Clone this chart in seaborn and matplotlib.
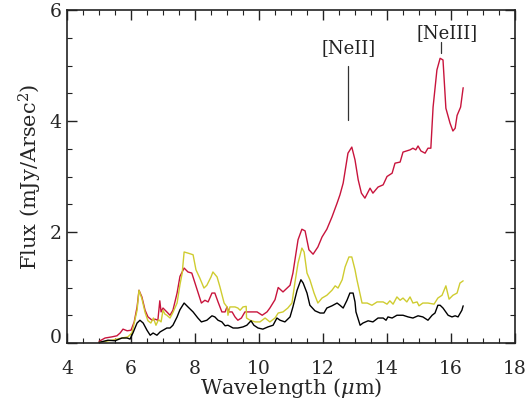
import numpy as np
import matplotlib
matplotlib.use("Agg")
import matplotlib.pyplot as plt
import seaborn as sns
from matplotlib.ticker import MultipleLocator

# red spectrum
red_x = [5.00, 5.19, 5.40, 5.56, 5.66, 5.75, 5.88, 6.00, 6.10, 6.19, 6.25, 6.34, 6.44, 6.53,
         6.66, 6.75, 6.84, 6.90, 6.94, 7.00, 7.12, 7.22, 7.31, 7.44, 7.53, 7.66, 7.78, 7.90,
         8.00, 8.10, 8.20, 8.31, 8.41, 8.53, 8.62, 8.72, 8.84, 8.94, 9.00, 9.06, 9.16, 9.25,
         9.34, 9.45, 9.56, 9.72, 9.94, 10.10, 10.25, 10.34, 10.50, 10.60, 10.75, 10.97, 11.06,
         11.22, 11.34, 11.44, 11.56, 11.69, 11.84, 11.97, 12.12, 12.28, 12.44, 12.53, 12.63,
         12.78, 12.90, 13.00, 13.10, 13.20, 13.31, 13.47, 13.56, 13.72, 13.88, 14.00, 14.16,
         14.25, 14.41, 14.50, 14.72, 14.81, 14.90, 14.97, 15.06, 15.19, 15.28, 15.37, 15.44,
         15.56, 15.66, 15.75, 15.84, 15.97, 16.06, 16.13, 16.19, 16.30, 16.38]
red_y = [0.03, 0.09, 0.11, 0.13, 0.18, 0.25, 0.22, 0.23, 0.38, 0.65, 0.95, 0.83, 0.59, 0.47,
         0.41, 0.43, 0.41, 0.76, 0.56, 0.63, 0.56, 0.50, 0.59, 0.90, 1.20, 1.35, 1.28, 1.26,
         1.08, 0.90, 0.72, 0.77, 0.74, 0.90, 0.90, 0.74, 0.56, 0.56, 0.65, 0.56, 0.56, 0.47,
         0.41, 0.45, 0.56, 0.56, 0.56, 0.50, 0.56, 0.63, 0.78, 1.00, 0.92, 1.04, 1.26,
         1.86, 2.05, 2.02, 1.68, 1.60, 1.73, 1.91, 2.05, 2.27, 2.52, 2.67, 2.88,
         3.42, 3.53, 3.30, 2.94, 2.70, 2.61, 2.79, 2.70, 2.81, 2.85, 3.00, 3.06,
         3.24, 3.26, 3.44, 3.48, 3.51, 3.48, 3.55, 3.46, 3.42, 3.51, 3.51, 4.25,
         4.92, 5.13, 5.10, 4.23, 3.96, 3.82, 3.87, 4.10, 4.25, 4.60]

# yellow spectrum
yel_x = [5.00, 5.10, 5.40, 5.72, 5.90, 6.03, 6.19, 6.25, 6.34, 6.44, 6.53, 6.62, 6.70, 6.78,
         6.86, 6.94, 7.00, 7.06, 7.12, 7.22, 7.31, 7.44, 7.53, 7.60, 7.66, 7.78, 7.94, 8.03,
         8.15, 8.28, 8.37, 8.50, 8.56, 8.69, 8.78, 8.91, 9.00, 9.03, 9.09, 9.25, 9.34, 9.41,
         9.50, 9.60, 9.61, 9.72, 9.88, 10.03, 10.19, 10.34, 10.50, 10.60, 10.75, 10.90, 11.03,
         11.12, 11.22, 11.34, 11.41, 11.50, 11.59, 11.72, 11.84, 11.97, 12.12, 12.28, 12.38,
         12.47, 12.60, 12.69, 12.81, 12.90, 13.00, 13.06, 13.22, 13.38, 13.53, 13.69, 13.88,
         14.00, 14.09, 14.19, 14.31, 14.41, 14.50, 14.62, 14.72, 14.81, 14.94, 15.00, 15.12,
         15.28, 15.47, 15.59, 15.72, 15.84, 15.94, 16.06, 16.19, 16.28, 16.38]
yel_y = [0.01, 0.02, 0.05, 0.09, 0.11, 0.18, 0.59, 0.95, 0.80, 0.55, 0.40, 0.36, 0.45, 0.32,
         0.42, 0.38, 0.59, 0.52, 0.50, 0.45, 0.55, 0.72, 1.05, 1.26, 1.64, 1.62, 1.59, 1.32,
         1.17, 0.99, 1.04, 1.19, 1.28, 1.19, 1.01, 0.72, 0.65, 0.50, 0.65, 0.65, 0.63, 0.59,
         0.65, 0.66, 0.45, 0.41, 0.38, 0.38, 0.45, 0.38, 0.45, 0.54, 0.56, 0.63, 0.72,
         1.08, 1.44, 1.71, 1.64, 1.26, 1.14, 0.90, 0.72, 0.81, 0.86, 0.95, 1.03,
         0.99, 1.14, 1.37, 1.55, 1.55, 1.32, 1.14, 0.72, 0.72, 0.68, 0.74, 0.74,
         0.70, 0.76, 0.70, 0.83, 0.77, 0.81, 0.74, 0.83, 0.72, 0.74, 0.67, 0.72,
         0.72, 0.70, 0.81, 0.86, 1.03, 0.79, 0.86, 0.90, 1.08, 1.12]

# black spectrum
blk_x = [5.00, 5.28, 5.50, 5.72, 5.88, 5.97, 6.06, 6.19, 6.28, 6.38, 6.50, 6.60, 6.69, 6.81,
         6.91, 7.00, 7.12, 7.22, 7.31, 7.44, 7.53, 7.66, 7.78, 7.94, 8.09, 8.20, 8.37, 8.53,
         8.62, 8.72, 8.84, 8.94, 9.03, 9.19, 9.34, 9.50, 9.62, 9.75, 9.84, 9.97, 10.12, 10.28,
         10.44, 10.56, 10.66, 10.81, 10.97, 11.06, 11.19, 11.31, 11.38, 11.50, 11.59, 11.75,
         11.91, 12.03, 12.12, 12.28, 12.44, 12.53, 12.63, 12.75, 12.84, 12.94, 13.00, 13.03,
         13.16, 13.25, 13.41, 13.56, 13.72, 13.88, 13.97, 14.03, 14.16, 14.31, 14.50, 14.66,
         14.81, 14.97, 15.12, 15.28, 15.41, 15.50, 15.59, 15.66, 15.75, 15.91, 16.03, 16.13,
         16.22, 16.34, 16.38]
blk_y = [0.01, 0.05, 0.04, 0.09, 0.09, 0.07, 0.18, 0.36, 0.41, 0.36, 0.23, 0.14, 0.18, 0.14,
         0.20, 0.23, 0.27, 0.27, 0.32, 0.47, 0.60, 0.72, 0.65, 0.56, 0.45, 0.38, 0.41, 0.49,
         0.47, 0.41, 0.38, 0.31, 0.32, 0.27, 0.27, 0.29, 0.32, 0.40, 0.32, 0.27, 0.25, 0.29,
         0.32, 0.45, 0.41, 0.38, 0.47, 0.65, 0.95, 1.14, 1.08, 0.90, 0.68, 0.58,
         0.54, 0.54, 0.63, 0.67, 0.72, 0.68, 0.63, 0.77, 0.90, 0.90, 0.74, 0.56,
         0.32, 0.36, 0.40, 0.38, 0.45, 0.45, 0.41, 0.47, 0.45, 0.50, 0.50, 0.47,
         0.45, 0.49, 0.47, 0.41, 0.50, 0.54, 0.68, 0.68, 0.63, 0.50, 0.47, 0.49,
         0.47, 0.59, 0.67]

# line labels: text, x, y of text, x of marker, y range of marker
line_names = ["[NeII]", "[NeIII]"]
line_text_x = [12.81, 15.88]
line_text_y = [5.32, 5.59]
line_mark_x = [12.78, 15.69]
line_mark_y0 = [4.02, 5.22]
line_mark_y1 = [4.99, 5.42]

x_ticks = [4, 6, 8, 10, 12, 14, 16, 18]
y_ticks = [0, 2, 4, 6]

sns.set_style("ticks")
plt.rcParams['font.family'] = ['DejaVu Serif']
plt.rcParams['mathtext.fontset'] = 'dejavuserif'

fig, ax = plt.subplots(figsize=(5.32, 4.04), dpi=100)
fig.subplots_adjust(left=67/532, right=515/532, top=1-10/404, bottom=1-343/404)

sns.lineplot(x=red_x, y=red_y, ax=ax, color='#c8143c', lw=1.0, sort=False, estimator=None)
sns.lineplot(x=yel_x, y=yel_y, ax=ax, color='#cfcc30', lw=1.0, sort=False, estimator=None)
sns.lineplot(x=blk_x, y=blk_y, ax=ax, color='black', lw=1.0, sort=False, estimator=None)

for name, tx, ty, mx, y0, y1 in zip(line_names, line_text_x, line_text_y,
                                    line_mark_x, line_mark_y0, line_mark_y1):
    ax.plot([mx, mx], [y0, y1], color='#333333', lw=0.9)
    ax.text(tx, ty, name, ha='center', va='center', fontsize=13, color='#222222')

ax.set_xticks(x_ticks)
ax.set_yticks(y_ticks)
ax.xaxis.set_minor_locator(MultipleLocator(0.5))
ax.yaxis.set_minor_locator(MultipleLocator(0.5))
ax.tick_params(which='both', direction='in', top=True, right=True, color='#222222')
ax.tick_params(which='major', length=7, width=1.0, labelsize=13.5)
ax.tick_params(which='minor', length=3.5, width=0.8)
ax.tick_params(axis='x', which='major', pad=12)
ax.tick_params(axis='y', which='major', pad=4)
for sp in ax.spines.values():
    sp.set_linewidth(1.2)
    sp.set_color('#222222')

# the bottom y label sits a little above its tick, as in the original
ax.get_yticklabels()[0].set_va('baseline')

ax.set_xlabel(r"Wavelength ($\mu$m)", fontsize=15)
ax.set_ylabel(r"Flux (mJy/Arsec$^2$)", fontsize=15)
ax.xaxis.set_label_coords(0.5, -0.1)
ax.yaxis.set_label_coords(-0.052, 0.5)

ax.set_xlim(4, 18)
ax.set_ylim(0, 6)

fig.savefig("out.png", dpi=100)
